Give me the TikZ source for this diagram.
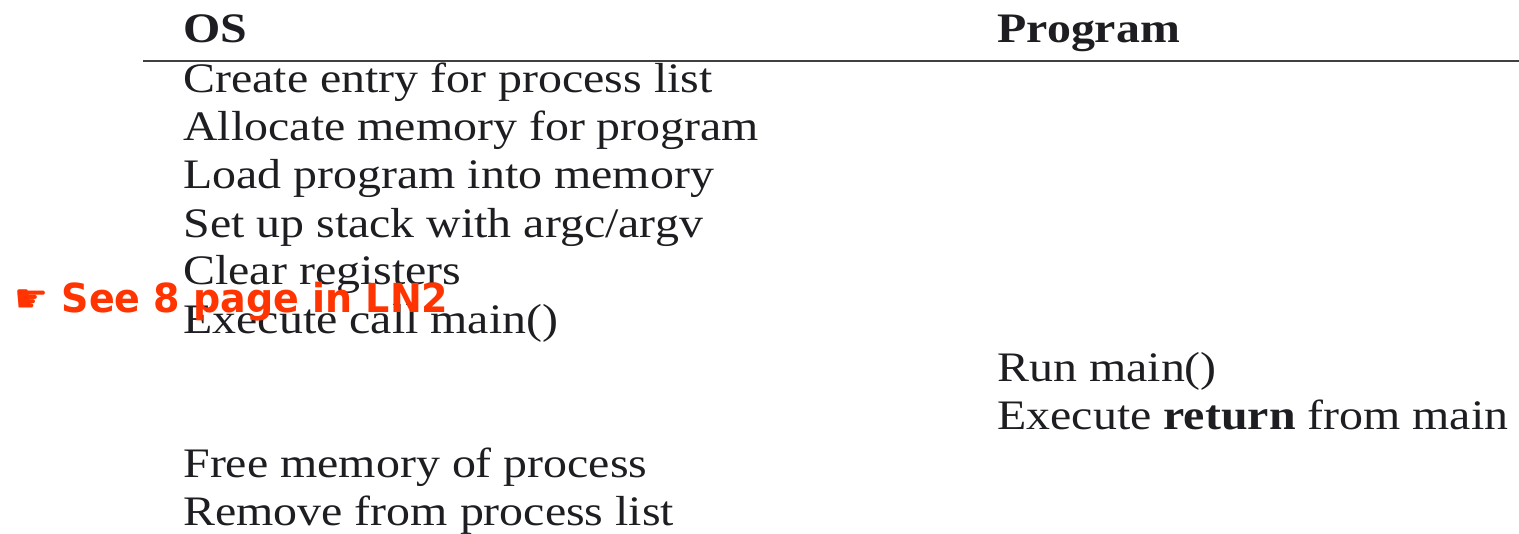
\documentclass[tikz,border=0pt]{standalone}
\usepackage{fontspec}
\setmainfont[FakeStretch=1.14]{Liberation Serif}
\newfontfamily\notefont[FakeStretch=0.95]{DejaVu Sans}
\definecolor{inkgray}{RGB}{30,30,34}
\definecolor{notered}{RGB}{255,52,0}
\begin{document}
\begin{tikzpicture}[x=0.5pt,y=-0.5pt,
  cell/.style={anchor=base west,inner sep=0pt,text=inkgray,font=\fontsize{21}{25}\selectfont},
  head/.style={cell,font=\fontsize{21}{25}\selectfont\bfseries},
  note/.style={anchor=base west,inner sep=0pt,text=notered,font=\notefont\bfseries\fontsize{20}{24}\selectfont}]
\useasboundingbox (0,0) rectangle (1519,534);
% column headings and rule
\node[head] (os) at (183,43) {OS};
\node[head] (prog) at (997,43) {Program};
\coordinate (ruleL) at (143,61);
\coordinate (ruleR) at (1519,61);
\draw[line width=1pt,draw=inkgray!85] (ruleL) -- (ruleR);
% OS column
\node[cell] (o1) at (183,93)  {Create entry for process list};
\node[cell] (o2) at (183,141) {Allocate memory for program};
\node[cell] (o3) at (183,189) {Load program into memory};
\node[cell] (o4) at (183,237) {Set up stack with argc/argv};
\node[cell] (o5) at (183,285) {Clear registers};
\node[cell] (o6) at (183,333) {Execute call main()};
% Program column
\node[cell] (p1) at (997,381) {Run main()};
\node[cell] (p2) at (997,429) {Execute \textbf{return} from main};
% OS column, after the program returns
\node[cell] (o7) at (183,477) {Free memory of process};
\node[cell] (o8) at (183,525) {Remove from process list};
% reference note
\node[note] (ref) at (14,312) {☛ See 8 page in LN2};
\end{tikzpicture}
\end{document}
